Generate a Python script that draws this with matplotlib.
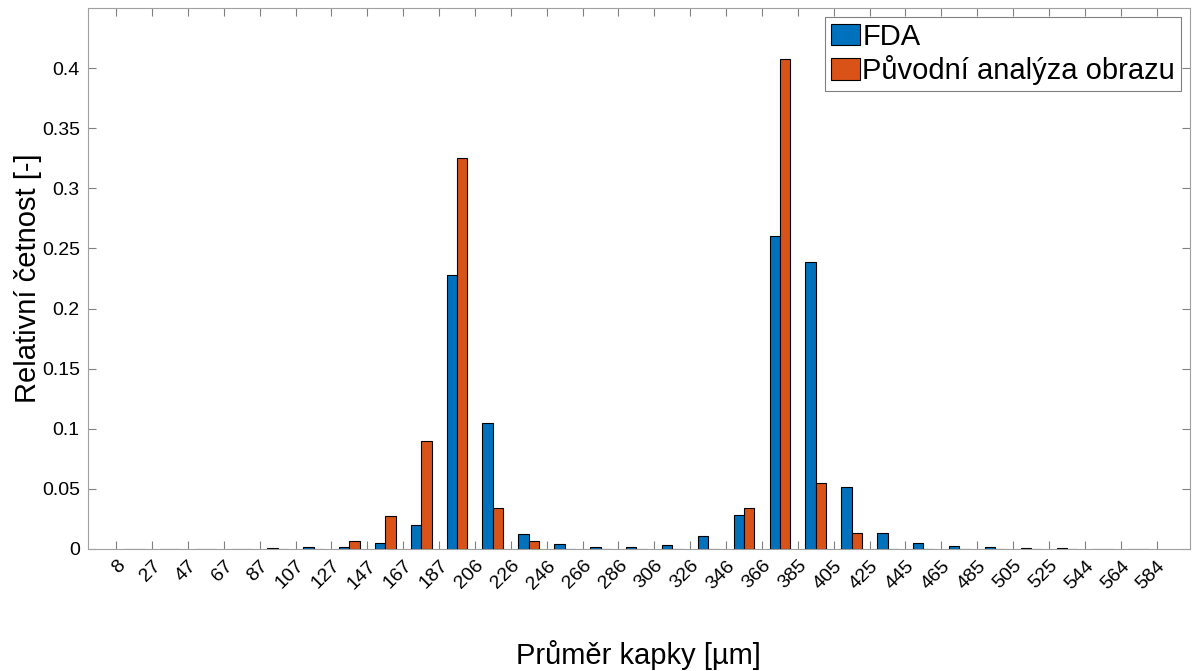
import numpy as np
import matplotlib
matplotlib.use("Agg")
import matplotlib.pyplot as plt

# tick labels = bin edges [um]
edges = ["8", "27", "47", "67", "87", "107", "127", "147", "167", "187", "206", "226",
         "246", "266", "286", "306", "326", "346", "366", "385", "405", "425", "445",
         "465", "485", "505", "525", "544", "564", "584"]

# relative frequency per bin (29 bins)
fda = [0, 0, 0, 0, 0.0004, 0.0012, 0.0012, 0.0048, 0.020, 0.2275, 0.105, 0.0122,
       0.0042, 0.0019, 0.0019, 0.0033, 0.0106, 0.0286, 0.260, 0.239, 0.0514, 0.0131,
       0.0047, 0.0022, 0.0014, 0.0005, 0.0004, 0, 0]
orig = [0, 0, 0, 0, 0, 0, 0.0069, 0.0275, 0.090, 0.325, 0.034, 0.0069,
        0, 0, 0, 0, 0, 0.034, 0.4075, 0.055, 0.0136, 0,
        0, 0, 0, 0, 0, 0, 0]

plt.rcParams['font.family'] = ['Liberation Sans', 'DejaVu Sans']

fig = plt.figure(figsize=(11.92, 6.71), dpi=100)
ax = fig.add_axes([0.074, 0.182, 0.924, 0.806])

x = np.arange(len(fda)) + 0.5
w = 0.29
ax.bar(x - w/2, fda, w, color='#0072BD', edgecolor='black', linewidth=0.8, label='FDA')
ax.bar(x + w/2, orig, w, color='#D95319', edgecolor='black', linewidth=0.8,
       label='Původní analýza obrazu')

ax.set_xlim(-0.78, 29.92)
ax.set_ylim(0, 0.45)
ax.set_xticks(np.arange(len(edges)))
ax.set_xticklabels(edges, rotation=45, ha='right', va='top', rotation_mode='anchor')
yt = np.arange(0, 0.41, 0.05)
ax.set_yticks(yt)
ax.set_yticklabels([f"{v:g}" for v in yt])
ax.tick_params(direction='in', top=True, right=True, labelsize=14, length=6,
               color='#808080', width=0.8, pad=6)
for s in ax.spines.values():
    s.set_color('#a0a0a0')
    s.set_linewidth(0.8)

ax.set_ylabel('Relativní četnost [-]', fontsize=21, labelpad=0)
ax.set_xlabel('Průměr kapky [µm]', fontsize=21, labelpad=34)

leg = ax.legend(loc='upper right', fontsize=21, fancybox=False, edgecolor='#808080',
                handlelength=1.0, handleheight=0.75, handletextpad=0.08,
                borderpad=0.2, labelspacing=0.15, borderaxespad=0.3, framealpha=1)
leg.get_frame().set_linewidth(0.8)

fig.savefig('out.png', dpi=100)
